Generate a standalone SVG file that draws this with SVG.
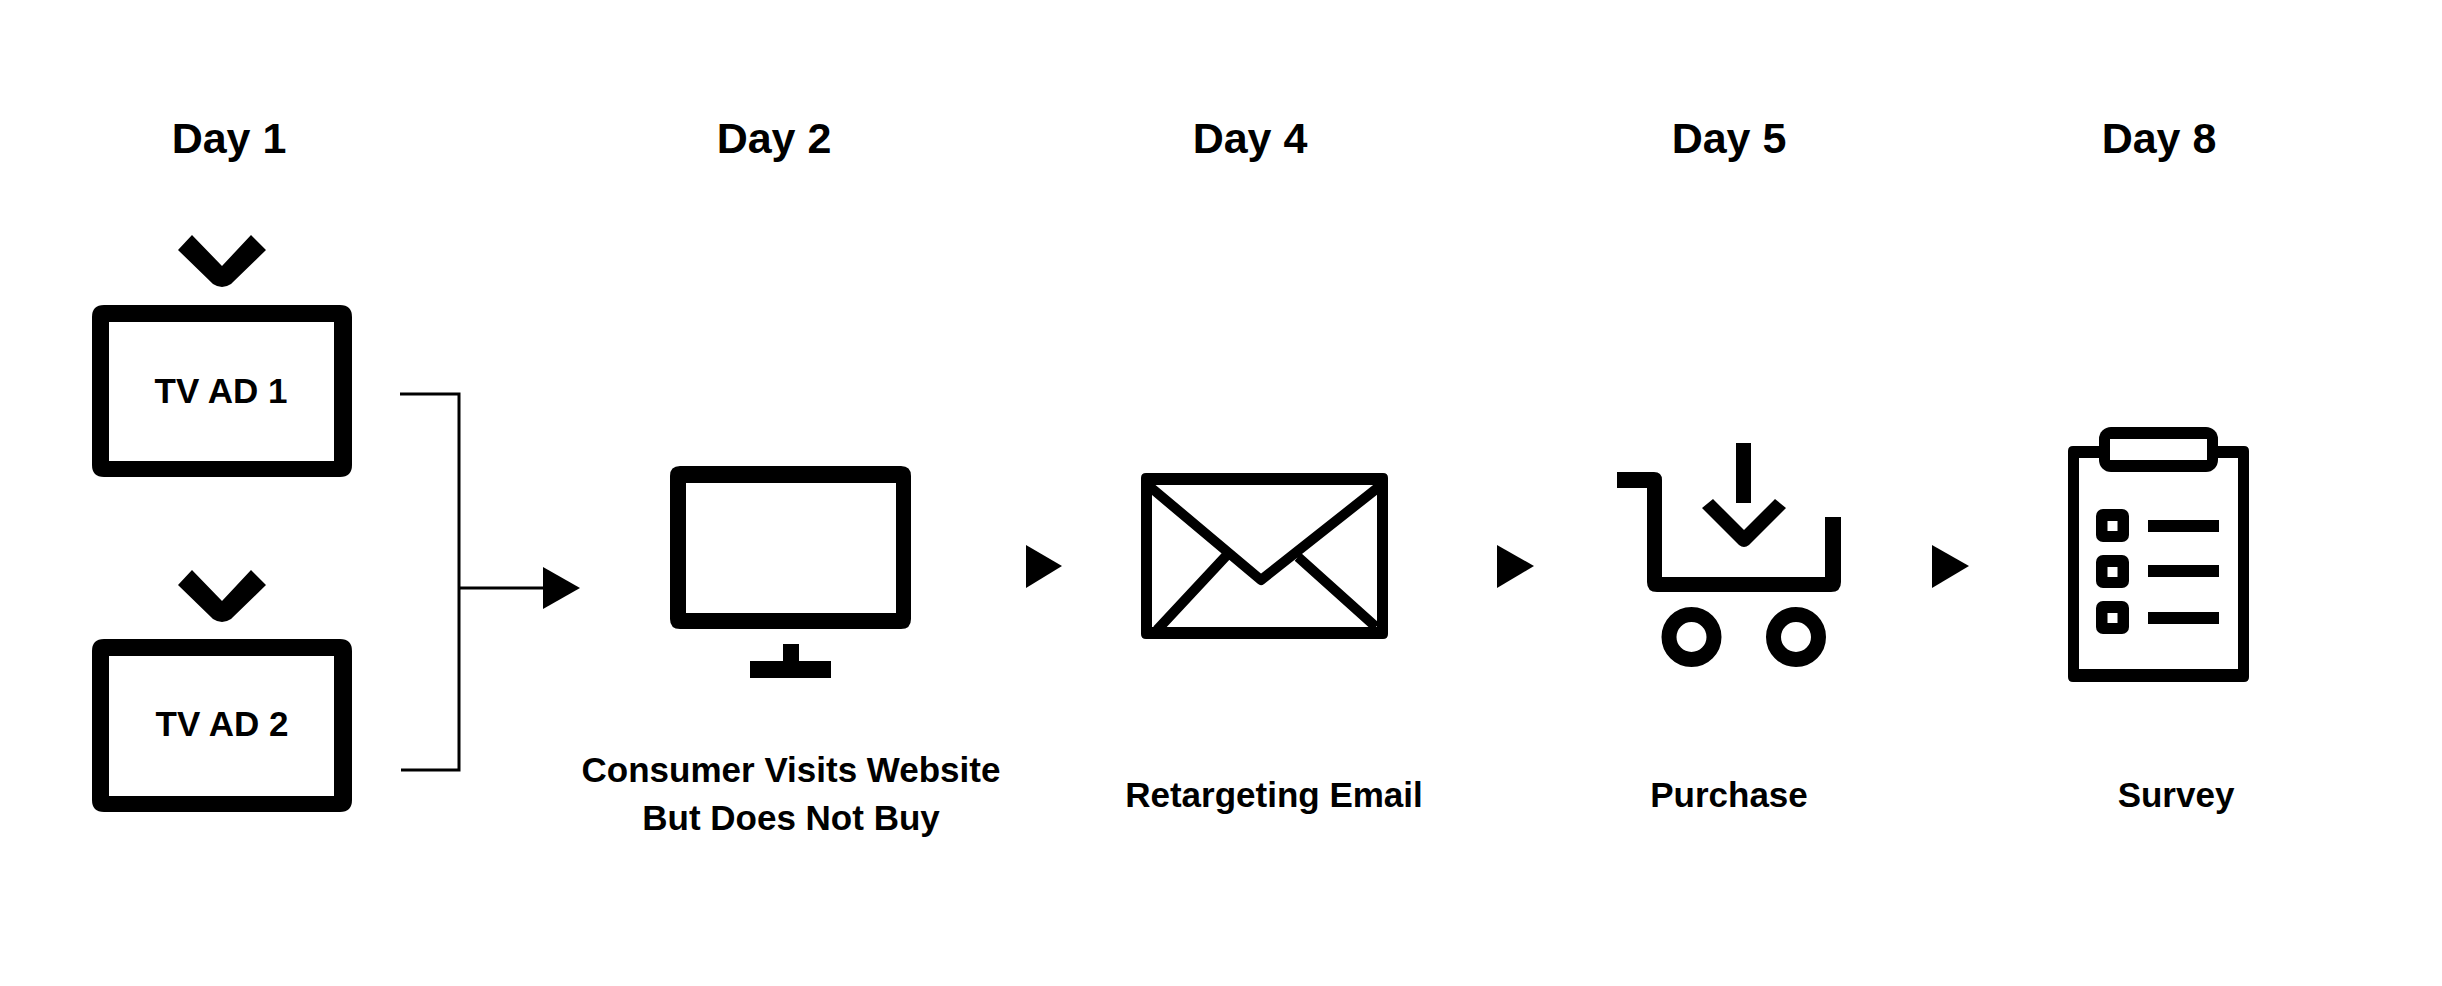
<svg xmlns="http://www.w3.org/2000/svg" width="2442" height="986" viewBox="0 0 2442 986">
<style>
text{font-family:"Liberation Sans",Arial,sans-serif;font-weight:700;fill:#000;text-anchor:middle}
.day{font-size:43px}
.tv{font-size:35px}
.lbl{font-size:35px}
.ln{fill:none;stroke:#000;stroke-width:3}
.ic{fill:none;stroke:#000;stroke-linejoin:round}
.f{fill:#000;stroke:none}
.w{fill:#fff;stroke:none}
</style>
<defs>
<path id="chev" class="f" d="M178 250L192 235L222 266L251 235L266 250L231 284Q222 290 213 284Z"/>
<g id="chk"><rect class="f" x="2096" y="509" width="33" height="33" rx="7"/><rect class="w" x="2107.500" y="521" width="10" height="10"/></g>
</defs>
<rect width="2442" height="986" fill="#fff"/>
<g id="day-labels">
<text class="day" x="229" y="153">Day 1</text>
<text class="day" x="774" y="153">Day 2</text>
<text class="day" x="1250" y="153">Day 4</text>
<text class="day" x="1729" y="153">Day 5</text>
<text class="day" x="2159" y="153">Day 8</text>
</g>
<g id="tv-ad-1">
<use href="#chev"/>
<path class="f" fill-rule="evenodd" d="M104 305H340Q352 305 352 317V465Q352 477 340 477H104Q92 477 92 465V317Q92 305 104 305ZM109 322V461H334V322Z"/>
<text class="tv" x="221" y="403">TV AD 1</text>
</g>
<g id="tv-ad-2">
<use href="#chev" y="335"/>
<path class="f" fill-rule="evenodd" d="M104 639H340Q352 639 352 651V800Q352 812 340 812H104Q92 812 92 800V651Q92 639 104 639ZM109 656V796H334V656Z"/>
<text class="tv" x="222" y="736">TV AD 2</text>
</g>
<g id="connectors">
<path class="ln" d="M400 394H459V770H401"/>
<path class="ln" d="M459 588H545"/>
<polygon class="f" points="543,567 580,588 543,609"/>
<polygon class="f" points="1026,545 1062,566 1026,588"/>
<polygon class="f" points="1497,545 1534,566 1497,588"/>
<polygon class="f" points="1932,545 1969,566 1932,588"/>
</g>
<g id="website">
<path class="f" fill-rule="evenodd" d="M680 466H901Q911 466 911 476V619Q911 629 901 629H680Q670 629 670 619V476Q670 466 680 466ZM686 483V613H896V483Z"/>
<path class="f" d="M783 644H799V661H831V678H750V661H783Z"/>
<text class="lbl" x="791" y="782">Consumer Visits Website</text>
<text class="lbl" x="791" y="830">But Does Not Buy</text>
</g>
<g id="email">
<path class="f" fill-rule="evenodd" d="M1146 473H1383Q1388 473 1388 478V634Q1388 639 1383 639H1146Q1141 639 1141 634V478Q1141 473 1146 473ZM1152 485V627H1377V485Z"/>
<path class="ic" stroke-width="10" d="M1149 486L1261 580L1380 486M1157 630L1226 556M1298 557L1376 627"/>
<text class="lbl" x="1274" y="807">Retargeting Email</text>
</g>
<g id="purchase">
<path class="f" d="M1617 472H1654Q1662 472 1662 480V577H1825V517H1841V582Q1841 592 1831 592H1657Q1647 592 1647 582V488H1617Z"/>
<rect class="f" x="1736" y="443" width="15" height="60"/>
<path class="f" d="M1702 508L1713 499L1744 530L1775 499L1786 508L1749 545Q1744 549 1739 545Z"/>
<circle class="ic" cx="1691.500" cy="637" r="22.500" stroke-width="15"/>
<circle class="ic" cx="1796" cy="637" r="22.500" stroke-width="15"/>
<text class="lbl" x="1729" y="807">Purchase</text>
</g>
<g id="survey">
<path class="f" fill-rule="evenodd" d="M2073 446H2244Q2249 446 2249 451V677Q2249 682 2244 682H2073Q2068 682 2068 677V451Q2068 446 2073 446ZM2079 458V669H2238V458Z"/>
<rect class="f" x="2099" y="427" width="119" height="45" rx="12"/>
<rect class="w" x="2110" y="439" width="97" height="21"/>
<g id="check-items">
<use href="#chk"/>
<use href="#chk" y="46"/>
<use href="#chk" y="92"/>
<rect class="f" x="2148" y="520" width="71" height="12"/>
<rect class="f" x="2148" y="565" width="71" height="12"/>
<rect class="f" x="2148" y="612" width="71" height="12"/>
</g>
<text class="lbl" x="2176" y="807">Survey</text>
</g>
</svg>
